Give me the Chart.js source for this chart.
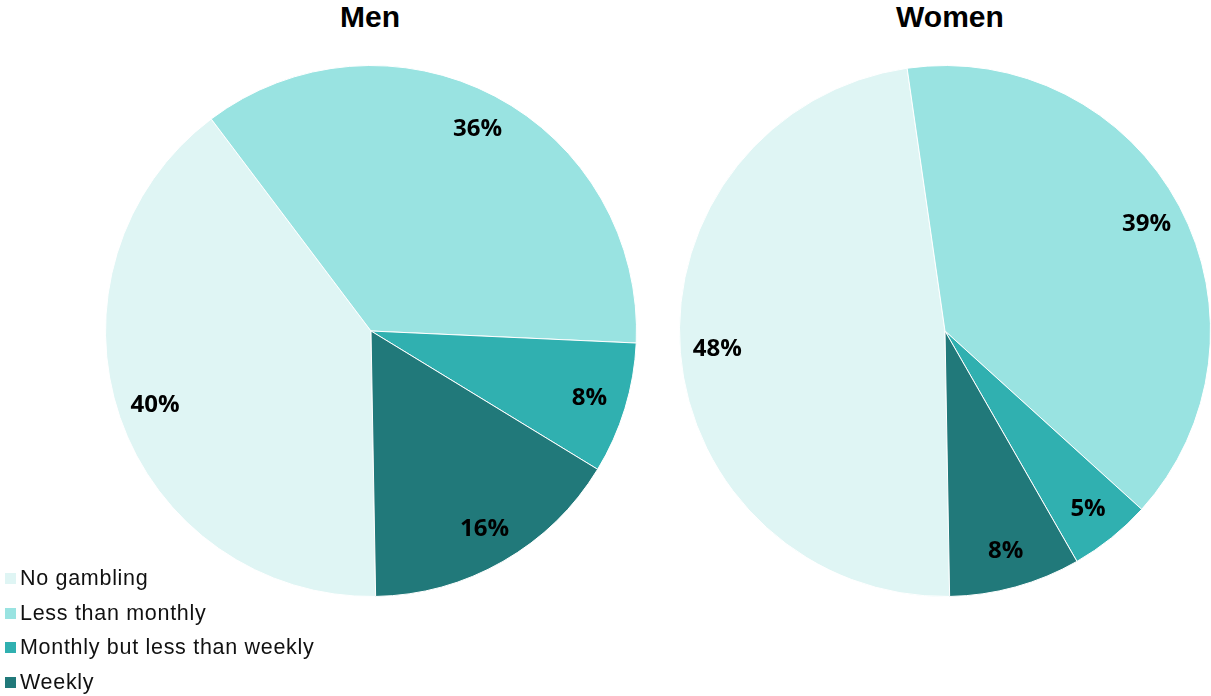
<!DOCTYPE html>
<html>
<head>
<meta charset="utf-8">
<script src="https://cdn.jsdelivr.net/npm/chart.js@4.4.1/dist/chart.umd.min.js"></script>
<style>
  html, body { margin: 0; padding: 0; background: #fff; }
  body { width: 1211px; height: 696px; position: relative; overflow: hidden; font-family: "Liberation Sans", Arial, sans-serif; }
  .pie { position: absolute; width: 532px; height: 532px; }
  .title { position: absolute; top: 0px; font-weight: bold; font-size: 30px; color: #000; text-align: center; width: 300px; }
  #legend { position: absolute; left: 5px; top: 563px; font-size: 21.5px; letter-spacing: 0.7px; color: #111; }
  #legend div { height: 34.7px; line-height: 30px; white-space: nowrap; }
  #legend span.box { display: inline-block; width: 11px; height: 11px; margin-right: 4px; vertical-align: 1px; }
</style>
</head>
<body>
<div class="title" style="left:220px">Men</div>
<div class="title" style="left:800px">Women</div>
<div class="pie" style="left:105px; top:65px"><canvas id="chartMen"></canvas></div>
<div class="pie" style="left:679px; top:65px"><canvas id="chartWomen"></canvas></div>
<div id="legend"></div>
<script>
// categories and values (percent)
const kategori = ['No gambling', 'Less than monthly', 'Monthly but less than weekly', 'Weekly'];
const nilaiMen = [40, 36, 8, 16];
const nilaiWomen = [48, 39, 5, 8];
const warna = ['#dff5f4', '#99e3e1', '#30b0b0', '#21797a'];

// plugin kecil: tulis persen di dalam irisan
const labelPersen = {
  id: 'labelPersen',
  afterDatasetsDraw(chart) {
    const ctx = chart.ctx;
    const meta = chart.getDatasetMeta(0);
    const data = chart.data.datasets[0].data;
    ctx.save();
    ctx.font = 'bold 24px "Open Sans"';
    ctx.fillStyle = '#000';
    ctx.textAlign = 'center';
    ctx.textBaseline = 'middle';
    meta.data.forEach((arc, i) => {
      const p = arc.getProps(['x', 'y', 'startAngle', 'endAngle', 'outerRadius'], true);
      const mid = (p.startAngle + p.endAngle) / 2;
      const r = p.outerRadius * 0.86;
      ctx.fillText(data[i] + '%', p.x + Math.cos(mid) * r, p.y + Math.sin(mid) * r);
    });
    ctx.restore();
  }
};

function buatPie(id, nilai) {
  return new Chart(document.getElementById(id), {
    type: 'pie',
    data: {
      labels: kategori,
      datasets: [{
        data: nilai,
        backgroundColor: warna,
        borderColor: '#ffffff',
        borderWidth: 1,
      }],
    },
    options: {
      responsive: true,
      maintainAspectRatio: false,
      animation: false,
      rotation: 179,
      layout: { padding: 0 },
      plugins: {
        legend: { display: false },
        tooltip: { enabled: false },
      },
    },
    plugins: [labelPersen],
  });
}

buatPie('chartMen', nilaiMen);
buatPie('chartWomen', nilaiWomen);

// legend HTML
const legend = document.getElementById('legend');
kategori.forEach((k, i) => {
  const row = document.createElement('div');
  row.innerHTML = '<span class="box" style="background:' + warna[i] + '"></span>' + k;
  legend.appendChild(row);
});
</script>
</body>
</html>
